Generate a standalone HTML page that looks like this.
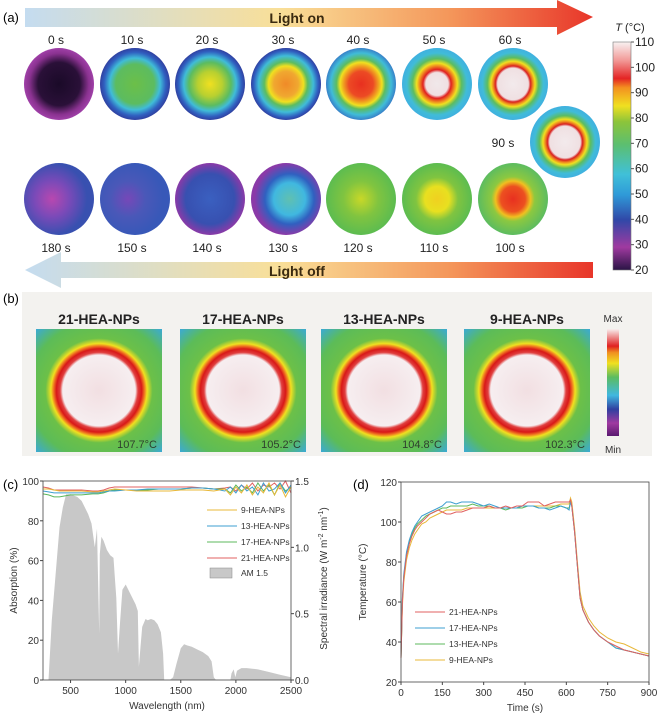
<!DOCTYPE html>
<html><head><meta charset="utf-8"><style>
body{margin:0;background:#fff}
svg{display:block;font-family:"Liberation Sans",sans-serif}
</style></head><body>
<svg id="fig" width="657" height="720" viewBox="0 0 657 720">
<defs>
<linearGradient id="gOn" x1="0" x2="1"><stop offset="0" stop-color="#c4dcf0"/><stop offset="0.45" stop-color="#f9df98"/><stop offset="0.75" stop-color="#f4965a"/><stop offset="1" stop-color="#e8362a"/></linearGradient>
<linearGradient id="gOff" x1="0" x2="1"><stop offset="0" stop-color="#c4dcf0"/><stop offset="0.45" stop-color="#f9df98"/><stop offset="0.75" stop-color="#f4965a"/><stop offset="1" stop-color="#e8362a"/></linearGradient>
<linearGradient id="gBar" x1="0" y1="1" x2="0" y2="0">
<stop offset="0" stop-color="#2a1445"/><stop offset="0.1" stop-color="#a03aa0"/><stop offset="0.22" stop-color="#3048a8"/><stop offset="0.33" stop-color="#2f9ad8"/><stop offset="0.42" stop-color="#40c0d8"/><stop offset="0.55" stop-color="#5cbf70"/><stop offset="0.65" stop-color="#8cc43a"/><stop offset="0.72" stop-color="#f0e020"/><stop offset="0.8" stop-color="#f39020"/><stop offset="0.84" stop-color="#e42424"/><stop offset="0.92" stop-color="#f29a98"/><stop offset="1" stop-color="#f8f2f2"/></linearGradient>
<radialGradient id="t0"><stop offset="0" stop-color="#1a0a28"/><stop offset="0.6" stop-color="#2a1038"/><stop offset="0.85" stop-color="#8a3290"/><stop offset="1" stop-color="#a040a8"/></radialGradient>
<radialGradient id="t10"><stop offset="0" stop-color="#6cbf48"/><stop offset="0.55" stop-color="#5cbc60"/><stop offset="0.72" stop-color="#40bcd8"/><stop offset="0.88" stop-color="#3060c0"/><stop offset="1" stop-color="#3040a0"/></radialGradient>
<radialGradient id="t20"><stop offset="0" stop-color="#f0e020"/><stop offset="0.35" stop-color="#b8d030"/><stop offset="0.6" stop-color="#5cbc60"/><stop offset="0.75" stop-color="#40bcd8"/><stop offset="0.9" stop-color="#3060c0"/><stop offset="1" stop-color="#3040a0"/></radialGradient>
<radialGradient id="t30"><stop offset="0" stop-color="#f08a28"/><stop offset="0.35" stop-color="#f0a830"/><stop offset="0.5" stop-color="#f0e020"/><stop offset="0.62" stop-color="#5cbc60"/><stop offset="0.78" stop-color="#40bcd8"/><stop offset="0.92" stop-color="#3060c0"/><stop offset="1" stop-color="#3040a0"/></radialGradient>
<radialGradient id="t40"><stop offset="0" stop-color="#e83020"/><stop offset="0.35" stop-color="#ec4a24"/><stop offset="0.5" stop-color="#f0a020"/><stop offset="0.6" stop-color="#f0e020"/><stop offset="0.7" stop-color="#5cbc60"/><stop offset="0.86" stop-color="#40bcd8"/><stop offset="1" stop-color="#3880c8"/></radialGradient>
<radialGradient id="t50"><stop offset="0" stop-color="#f0e8ea"/><stop offset="0.32" stop-color="#f0e0e2"/><stop offset="0.4" stop-color="#e02020"/><stop offset="0.5" stop-color="#f08a20"/><stop offset="0.58" stop-color="#f0e020"/><stop offset="0.7" stop-color="#5cbc60"/><stop offset="0.86" stop-color="#40bcd8"/><stop offset="1" stop-color="#40b0e0"/></radialGradient>
<radialGradient id="t60"><stop offset="0" stop-color="#f2eaec"/><stop offset="0.44" stop-color="#f0e0e2"/><stop offset="0.5" stop-color="#d82020"/><stop offset="0.57" stop-color="#f09020"/><stop offset="0.63" stop-color="#f0e020"/><stop offset="0.73" stop-color="#5cbc60"/><stop offset="0.87" stop-color="#40bcd8"/><stop offset="1" stop-color="#40b0e0"/></radialGradient>
<radialGradient id="t180" cx="0.4"><stop offset="0" stop-color="#b848b0"/><stop offset="0.5" stop-color="#7a4ab8"/><stop offset="1" stop-color="#3850b0"/></radialGradient>
<radialGradient id="t150" cx="0.4"><stop offset="0" stop-color="#7648b8"/><stop offset="0.5" stop-color="#4a58b8"/><stop offset="1" stop-color="#3858b8"/></radialGradient>
<radialGradient id="t140"><stop offset="0" stop-color="#3a60c0"/><stop offset="0.7" stop-color="#3850b0"/><stop offset="1" stop-color="#8a3aa8"/></radialGradient>
<radialGradient id="t130" cx="0.55"><stop offset="0" stop-color="#60c0b0"/><stop offset="0.45" stop-color="#40b8e0"/><stop offset="0.7" stop-color="#3060c0"/><stop offset="1" stop-color="#8a3aa8"/></radialGradient>
<radialGradient id="t120"><stop offset="0" stop-color="#c8d828"/><stop offset="0.5" stop-color="#80c440"/><stop offset="1" stop-color="#5cbc50"/></radialGradient>
<radialGradient id="t110"><stop offset="0" stop-color="#f0d020"/><stop offset="0.35" stop-color="#e8e020"/><stop offset="0.6" stop-color="#80c440"/><stop offset="1" stop-color="#5cbc50"/></radialGradient>
<radialGradient id="t100"><stop offset="0" stop-color="#e83020"/><stop offset="0.35" stop-color="#ec5020"/><stop offset="0.5" stop-color="#f0c020"/><stop offset="0.62" stop-color="#8cc840"/><stop offset="1" stop-color="#5cbc60"/></radialGradient>
<radialGradient id="bimg" cx="0.5" cy="0.5" r="0.72"><stop offset="0" stop-color="#f2dfe2"/><stop offset="0.4" stop-color="#f6eef0"/><stop offset="0.43" stop-color="#e04040"/><stop offset="0.47" stop-color="#d81818"/><stop offset="0.5" stop-color="#f07020"/><stop offset="0.53" stop-color="#f0e020"/><stop offset="0.59" stop-color="#6cc048"/><stop offset="0.78" stop-color="#5cbc58"/><stop offset="1" stop-color="#38a8e0"/></radialGradient>
<linearGradient id="bBar" x1="0" y1="1" x2="0" y2="0"><stop offset="0" stop-color="#5a1a70"/><stop offset="0.12" stop-color="#a03aa0"/><stop offset="0.25" stop-color="#3040a0"/><stop offset="0.38" stop-color="#40b8e0"/><stop offset="0.55" stop-color="#5cbc60"/><stop offset="0.68" stop-color="#f0e020"/><stop offset="0.78" stop-color="#f09020"/><stop offset="0.84" stop-color="#e02020"/><stop offset="1" stop-color="#f8eeee"/></linearGradient>
</defs>

<!-- Panel a -->
<g>
<text x="3" y="22" font-size="13">(a)</text>
<g><polygon points="25,8 557,8 557,0 593,17 557,35 557,27 25,27" fill="url(#gOn)"/><text x="297" y="23" font-size="14" font-weight="bold" text-anchor="middle" fill="#3a2a10">Light on</text></g>
<g><polygon points="593,262 593,278 61,278 61,288 25,270 61,252 61,262" fill="url(#gOff)"/><text x="297" y="276" font-size="14" font-weight="bold" text-anchor="middle" fill="#3a2a10">Light off</text></g>
<g id="rows" font-size="12" text-anchor="middle" fill="#222"></g>
<g>
<rect x="613" y="42" width="18" height="228" fill="url(#gBar)" stroke="#777" stroke-width="0.6"/>
<text x="630" y="31" font-size="11" text-anchor="middle" fill="#222"><tspan font-style="italic">T</tspan> (°C)</text>
<g id="cbticks" font-size="12" fill="#222"></g>
</g>
</g>

<!-- Panel b -->
<g>
<rect x="22" y="292" width="630" height="164" fill="#f3f2ef"/>
<text x="3" y="303" font-size="13">(b)</text>
<g id="bimgs"></g>
<g>
<rect x="607" y="329" width="12" height="107" fill="url(#bBar)"/>
<text x="613" y="322" font-size="10" text-anchor="middle" fill="#333">Max</text>
<text x="613" y="453" font-size="10" text-anchor="middle" fill="#333">Min</text>
</g>
</g>

<g id="chartC"></g>
<g id="chartD"></g>
</svg>
<script>
const NS="http://www.w3.org/2000/svg";
function mk(tag,attrs,parent,text){const e=document.createElementNS(NS,tag);for(const k in attrs)e.setAttribute(k,attrs[k]);if(text!==undefined)e.textContent=text;parent.appendChild(e);return e;}

// Panel a thermal images
const rowsG=document.getElementById('rows');
const topLabels=["0 s","10 s","20 s","30 s","40 s","50 s","60 s"];
const topGrads=["t0","t10","t20","t30","t40","t50","t60"];
const botLabels=["180 s","150 s","140 s","130 s","120 s","110 s","100 s"];
const botGrads=["t180","t150","t140","t130","t120","t110","t100"];
const colX=[59,135,210,286,361,437,513];
for(let i=0;i<7;i++){
  const e1=mk('ellipse',{cx:colX[i],cy:84,rx:35,ry:36,fill:`url(#${topGrads[i]})`},rowsG);
  
  
  const l1=mk('text',{x:colX[i]-3,y:44},rowsG,topLabels[i]);
  
  
  const e2=mk('ellipse',{cx:colX[i],cy:199,rx:35,ry:36,fill:`url(#${botGrads[i]})`},rowsG);
  
  
  const l2=mk('text',{x:colX[i]-3,y:252},rowsG,botLabels[i]);
  
  
}
const e90=mk('ellipse',{cx:565,cy:142,rx:35,ry:36,fill:'url(#t60)'},rowsG);


const l90=mk('text',{x:503,y:147},rowsG,"90 s");



const cbTicks=[110,100,90,80,70,60,50,40,30,20];
const cbG=document.getElementById('cbticks');
cbTicks.forEach(v=>{const y=270-(v-20)/90*228;mk('line',{x1:631,x2:634,y1:y,y2:y,stroke:'#555'},cbG);const t=mk('text',{x:635,y:y+4},cbG,String(v));});

// Panel b
const bNames=["21-HEA-NPs","17-HEA-NPs","13-HEA-NPs","9-HEA-NPs"];
const bTemps=["107.7°C","105.2°C","104.8°C","102.3°C"];
const bX=[36,180,321,464];
const bG=document.getElementById('bimgs');
bNames.forEach((n,i)=>{
  const g=mk('g',{},bG);
  
  
  mk('rect',{x:bX[i],y:329,width:126,height:123,fill:'url(#bimg)'},g);
  mk('text',{x:bX[i]+63,y:324,'font-size':14,'font-weight':'bold','text-anchor':'middle',fill:'#222'},g,n);
  mk('text',{x:bX[i]+121,y:448,'font-size':11,'text-anchor':'end',fill:'#2e3f2e'},g,bTemps[i]);
});

// Panel c data
const amWl=[280,300,330,360,400,430,460,500,530,560,600,630,660,690,700,720,740,760,765,780,800,830,860,890,900,915,930,950,970,1000,1030,1060,1090,1110,1120,1135,1150,1180,1200,1230,1260,1290,1320,1340,1350,1400,1430,1460,1500,1530,1560,1600,1650,1700,1750,1780,1800,1820,1950,1960,1980,1995,2010,2030,2050,2100,2150,2200,2300,2400,2500];
const amIrr=[0,0,0.45,0.75,1.15,1.30,1.40,1.40,1.39,1.38,1.35,1.30,1.25,1.18,1.12,1.0,1.14,0.35,0.95,1.08,1.05,0.98,0.94,0.92,0.8,0.62,0.2,0.45,0.68,0.72,0.67,0.62,0.57,0.52,0.1,0.25,0.4,0.46,0.45,0.46,0.45,0.42,0.36,0.2,0,0,0.02,0.12,0.24,0.27,0.26,0.25,0.23,0.21,0.18,0.14,0.02,0,0,0.05,0.08,0.02,0.07,0.08,0.09,0.09,0.085,0.08,0.06,0.04,0.02];
const absWl=[250,300,350,400,500,600,700,750,800,850,900,1000,1100,1200,1300,1400,1500,1600,1700,1800,1900,1950,2000,2050,2100,2150,2200,2250,2300,2350,2400,2450,2500];
const abs9=[96,96,95.5,95,95,95,94.5,94.5,95,95.5,96,95.5,95,95,95,95,95.5,95.5,95.5,95,96,93,97,94,98,93,97,94,99,93,98,92,97];
const abs13=[95,94.5,94,94,94,94,94,94,94.5,95,95,95.5,95.5,96,96,96,96,96.5,96.5,96,95,97,94,98,95,97,93,99,95,96,99,94,98];
const abs17=[93.5,93,92,92,93,93,93.5,93.5,94,95,95.5,95.5,95.5,95.5,96,96,96,96.5,96.5,96,96,94,98,95,97,94,99,95,98,93,99,95,97];
const abs21=[97,96.5,95.5,95.5,95.5,95.5,95,95,95.5,96.5,97,97,97,97,97,97,97,97,96.5,96,96.5,97,95,98,96,99,95,98,97,99,96,100,94];
const cSeriesNames=["9-HEA-NPs","13-HEA-NPs","17-HEA-NPs","21-HEA-NPs"];
const cColors=["#e8b83a","#3d9fd0","#5cb85c","#e06060"];
const cXTicks=[500,1000,1500,2000,2500];
const cYTicks=[0,20,40,60,80,100];
const cY2Ticks=[0.0,0.5,1.0,1.5];

(function(){
  const G=document.getElementById('chartC');
  const L=43,R=291,T=481,B=680;
  const xs=w=>L+(w-250)/(2500-250)*(R-L);
  const ys=v=>B-v/100*(B-T);
  const y2=v=>B-v/1.5*(B-T);
  mk('text',{x:3,y:489,'font-size':13},G,'(c)');
  let d='M'+xs(amWl[0])+','+y2(0);
  amWl.forEach((w,i)=>d+=' L'+xs(w).toFixed(1)+','+y2(amIrr[i]).toFixed(1));
  d+=' L'+xs(2500)+','+y2(0)+'Z';
  const area=mk('path',{d,fill:'#c8c8c8'},G);
  
  
  const series=[abs9,abs13,abs17,abs21];
  [3,2,1,0].forEach(si=>{
    const p=mk('path',{d:'M'+absWl.map((w,i)=>xs(w).toFixed(1)+','+ys(series[si][i]).toFixed(1)).join(' L'),fill:'none',stroke:cColors[si],'stroke-width':1},G);
    
    
  });
  mk('rect',{x:L,y:T,width:R-L,height:B-T,fill:'none',stroke:'#444','stroke-width':0.8},G);
  cXTicks.forEach(v=>{mk('line',{x1:xs(v),x2:xs(v),y1:B,y2:B+3,stroke:'#444'},G);const t=mk('text',{x:xs(v),y:B+14,'font-size':10,'text-anchor':'middle',fill:'#333'},G,String(v));});
  cYTicks.forEach(v=>{mk('line',{x1:L-3,x2:L,y1:ys(v),y2:ys(v),stroke:'#444'},G);const t=mk('text',{x:L-4,y:ys(v)+4,'font-size':10,'text-anchor':'end',fill:'#333'},G,String(v));});
  cY2Ticks.forEach(v=>{mk('line',{x1:R,x2:R+3,y1:y2(v),y2:y2(v),stroke:'#444'},G);const t=mk('text',{x:R+4,y:y2(v)+4,'font-size':10,fill:'#333'},G,v.toFixed(1));});
  const xt=mk('text',{x:(L+R)/2,y:B+29,'font-size':10,'text-anchor':'middle',fill:'#333'},G,'Wavelength (nm)');
  
  const yt=mk('text',{x:0,y:0,'font-size':10,'text-anchor':'middle',fill:'#333',transform:`translate(17,${(T+B)/2}) rotate(-90)`},G,'Absorption (%)');
  
  const y2t=mk('text',{x:0,y:0,'font-size':10,'text-anchor':'middle',fill:'#333',transform:`translate(327,${(T+B)/2-2}) rotate(-90)`},G);
  y2t.innerHTML='Spectral irradiance (W m<tspan dy="-4" font-size="7">-2</tspan><tspan dy="4"> nm</tspan><tspan dy="-4" font-size="7">-1</tspan><tspan dy="4">)</tspan>';
  
  cSeriesNames.forEach((n,i)=>{const y=510+i*16;const g=mk('g',{},G);mk('line',{x1:207,x2:237,y1:y,y2:y,stroke:cColors[i]},g);mk('text',{x:241,y:y+3,'font-size':8.5,fill:'#333'},g,n);});
  const lg=mk('g',{},G);
  mk('rect',{x:210,y:568,width:22,height:10,fill:'#c8c8c8',stroke:'#888','stroke-width':0.5},lg);mk('text',{x:241,y:576,'font-size':8.5,fill:'#333'},lg,'AM 1.5');
})();

// Panel d data
const dTime=[0,5,10,20,30,40,50,60,75,90,105,120,135,150,165,180,200,220,240,260,280,300,320,340,360,380,400,420,440,460,480,500,520,540,560,580,600,610,615,620,630,640,650,660,680,700,720,750,780,810,840,870,900];
const d21=[32,60,72,83,89,93,96,98,100,102,104,105,106,105,104,104,105,105,106,107,107,107,108,107,107,108,107,108,108,110,110,110,108,109,110,110,110,110,111,108,95,78,62,56,50,46,43,40,38,36,35,34,33];
const d17=[32,62,74,85,91,95,98,100,103,104,105,106,107,108,110,110,109,110,110,110,109,108,109,108,107,107,107,107,108,108,108,107,107,106,107,108,107,106,110,108,95,78,62,56,50,46,43,40,37,36,35,34,33];
const d13=[32,61,73,84,90,94,97,99,101,103,104,105,106,107,107,108,108,108,108,109,108,108,108,107,107,106,107,107,107,108,108,107,107,107,108,108,107,107,110,108,95,78,62,56,50,46,43,40,37,36,35,34,33];
const d9=[32,58,70,81,87,91,94,96,99,100,102,103,104,105,106,106,106,106,107,107,107,107,107,107,107,107,107,107,108,108,108,108,108,108,108,109,109,109,112,110,97,80,65,58,52,48,45,42,40,39,37,35,34];
const dNames=["21-HEA-NPs","17-HEA-NPs","13-HEA-NPs","9-HEA-NPs"];
const dColors=["#e06060","#3d9fd0","#5cb85c","#e8b83a"];
const dXTicks=[0,150,300,450,600,750,900];
const dYTicks=[20,40,60,80,100,120];

(function(){
  const G=document.getElementById('chartD');
  const L=401,R=649,T=482,B=682;
  const xs=t=>L+t/900*(R-L);
  const ys=v=>B-(v-20)/100*(B-T);
  mk('text',{x:353,y:489,'font-size':13},G,'(d)');
  const series=[d21,d17,d13,d9];
  [3,2,1,0].forEach(si=>{
    const p=mk('path',{d:'M'+dTime.map((t,i)=>xs(t).toFixed(1)+','+ys(series[si][i]).toFixed(1)).join(' L'),fill:'none',stroke:dColors[si],'stroke-width':1},G);
    
    
  });
  mk('rect',{x:L,y:T,width:R-L,height:B-T,fill:'none',stroke:'#444','stroke-width':0.8},G);
  dXTicks.forEach(v=>{mk('line',{x1:xs(v),x2:xs(v),y1:B,y2:B+3,stroke:'#444'},G);const t=mk('text',{x:xs(v),y:B+14,'font-size':10,'text-anchor':'middle',fill:'#333'},G,String(v));});
  dYTicks.forEach(v=>{mk('line',{x1:L-3,x2:L,y1:ys(v),y2:ys(v),stroke:'#444'},G);const t=mk('text',{x:L-4,y:ys(v)+4,'font-size':10,'text-anchor':'end',fill:'#333'},G,String(v));});
  const xt=mk('text',{x:(L+R)/2,y:B+29,'font-size':10,'text-anchor':'middle',fill:'#333'},G,'Time (s)');
  
  const yt=mk('text',{x:0,y:0,'font-size':10,'text-anchor':'middle',fill:'#333',transform:`translate(366,${(T+B)/2}) rotate(-90)`},G,'Temperature (°C)');
  
  dNames.forEach((n,i)=>{const y=612+i*16;const g=mk('g',{},G);mk('line',{x1:415,x2:445,y1:y,y2:y,stroke:dColors[i]},g);mk('text',{x:449,y:y+3,'font-size':8.5,fill:'#333'},g,n);});
})();
</script>
</body></html>
